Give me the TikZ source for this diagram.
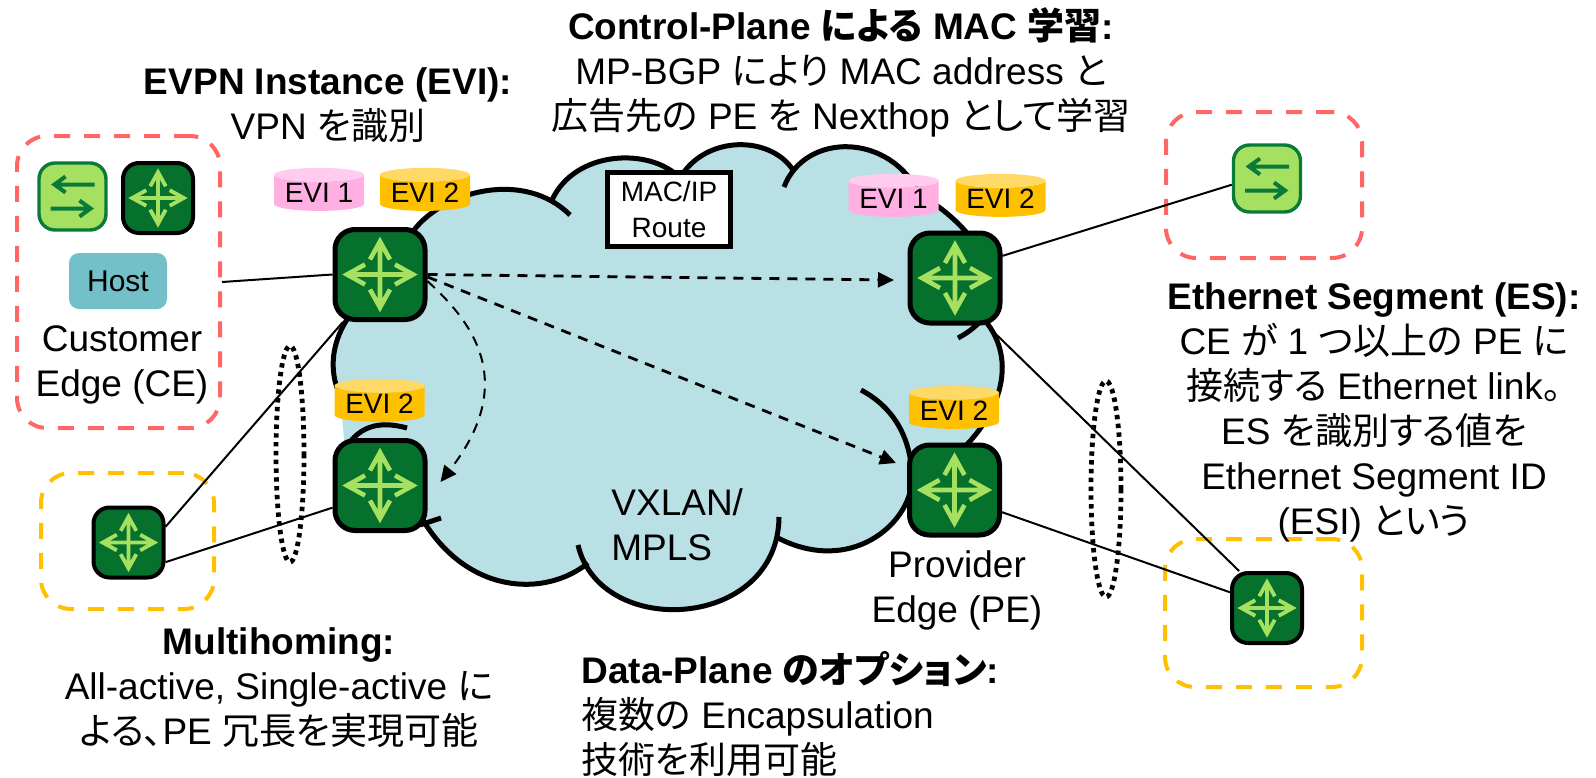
\documentclass[tikz,border=0pt]{standalone}
\usepackage{fontspec}
\setmainfont{Liberation Sans}
\newfontfamily\jpfont[RawFeature=+palt]{Noto Sans CJK JP}
\newcommand{\ja}[1]{{\jpfont #1}}
\usetikzlibrary{arrows.meta,shapes.geometric}
\definecolor{cloudblue}{RGB}{185,224,228}
\definecolor{rosered}{RGB}{255,102,102}
\definecolor{ambeline}{RGB}{255,192,0}
\definecolor{ambertop}{RGB}{255,217,102}
\definecolor{pinkbody}{RGB}{255,175,225}
\definecolor{pinktop}{RGB}{255,204,238}
\definecolor{routerfill}{RGB}{6,112,45}
\definecolor{limearrow}{RGB}{166,224,96}
\definecolor{switchline}{RGB}{10,122,56}
\definecolor{hostfill}{RGB}{115,192,200}
\tikzset{
    bodytext/.style={font=\fontsize{18.5}{22.5}\selectfont,align=center,inner sep=0pt},
    routerbig/.style={draw=black,fill=routerfill,line width=2.5pt,rounded corners=10pt,minimum size=45pt,inner sep=0pt},
    routersmall/.style={draw=black,fill=routerfill,line width=2pt,rounded corners=8pt,minimum size=35pt,inner sep=0pt},
    switchbox/.style={draw=switchline,fill=limearrow,line width=1.7pt,rounded corners=8pt,minimum size=33.5pt,inner sep=0pt},
    sitebox/.style={line width=2pt,rounded corners=15pt,dash pattern=on 8pt off 7pt,inner sep=0pt},
    evidisk/.style={cylinder,shape border rotate=90,aspect=.2,cylinder uses custom fill,draw=none,minimum width=45pt,minimum height=21.5pt,inner sep=0pt,font=\fontsize{14}{14}\selectfont},
    evione/.style={evidisk,cylinder body fill=pinkbody,cylinder end fill=pinktop},
    evitwo/.style={evidisk,cylinder body fill=ambeline,cylinder end fill=ambertop},
    cloudline/.style={draw=black,line width=2.5pt},
    linkline/.style={draw=black,line width=1pt},
    routeline/.style={draw=black,line width=1.4pt,dash pattern=on 5pt off 4pt,-{Triangle[length=8pt,width=7.5pt]}},
    esring/.style={draw=black,line width=2.4pt,dash pattern=on 2.2pt off 2.2pt},
    pics/routerarrows/.style={code={
        \foreach \a in {0,90,180,270}{
            \draw[limearrow,line width=#1,rotate=\a] (0,0) -- (33,0) (15,-10) -- (33,0) -- (15,10);
        }
    }},
    pics/switcharrows/.style={code={
        \draw[switchline,line width=2pt] (22,-12) -- (-18,-12) (-7,-20) -- (-18,-12) -- (-7,-4);
        \draw[switchline,line width=2pt] (-22,12) -- (18,12) (7,4) -- (18,12) -- (7,20);
    }}
}
\begin{document}
\begin{tikzpicture}[x=0.5pt,y=-0.5pt]
    \useasboundingbox (0,0) rectangle (1596,777);

    \fill[cloudblue] (414,230) .. controls (445,190) and (525,170) .. (570,215)
        -- (552,200) .. controls (575,150) and (650,147) .. (680,178)
        .. controls (705,135) and (770,135) .. (793,170)
        -- (784,187) .. controls (805,132) and (890,132) .. (920,195)
        .. controls (975,225) and (1030,300) .. (958,338)
        -- (975,310) .. controls (1025,355) and (1000,420) .. (950,460)
        -- (912,480) .. controls (910,525) and (850,575) .. (778,538)
        -- (779,517) .. controls (778,630) and (600,640) .. (578,545)
        -- (588,563) .. controls (545,598) and (465,595) .. (420,515)
        -- (345,450) -- (340,395) .. controls (328,370) and (332,340) .. (350,315) -- cycle;
    \draw[cloudline] (414,230) .. controls (445,190) and (525,170) .. (570,215);
    \draw[cloudline] (552,200) .. controls (575,150) and (650,147) .. (680,178);
    \draw[cloudline] (680,178) .. controls (705,135) and (770,135) .. (793,170);
    \draw[cloudline] (784,187) .. controls (805,132) and (890,132) .. (920,195);
    \draw[cloudline] (920,195) .. controls (975,225) and (1030,300) .. (958,338);
    \draw[cloudline] (975,310) .. controls (1025,355) and (1000,420) .. (950,460);
    \draw[cloudline] (861,390) .. controls (895,408) and (912,440) .. (912,480);
    \draw[cloudline] (912,480) .. controls (910,525) and (850,575) .. (778,538);
    \draw[cloudline] (779,517) .. controls (778,630) and (600,640) .. (578,545);
    \draw[cloudline] (588,563) .. controls (545,598) and (465,595) .. (420,515);
    \draw[cloudline] (441,518) -- (420,525);
    \draw[cloudline] (407,428) .. controls (385,422) and (360,422) .. (345,450);
    \draw[cloudline] (340,395) .. controls (328,370) and (332,340) .. (350,315);

    \node[sitebox,draw=rosered,minimum width=101.5pt,minimum height=146pt] (cesite) at (118.5,282) {};
    \node[sitebox,draw=ambeline,minimum width=86.5pt,minimum height=68pt] (mhsite) at (127.5,541) {};
    \node[sitebox,draw=rosered,minimum width=98pt,minimum height=73pt] (swsite) at (1264,185) {};
    \node[sitebox,draw=ambeline,minimum width=98.5pt,minimum height=74pt] (essite) at (1263.5,613) {};

    \node[switchbox] (swlegend) at (72.5,196.5) {};
    \node[routersmall] (rtlegend) at (158,198) {};
    \node[fill=hostfill,rounded corners=5pt,minimum width=49pt,minimum height=28pt,inner sep=0pt,font=\fontsize{15}{15}\selectfont] (host) at (118,281) {Host};
    \node[bodytext] (cetext) at (122,365) {Customer\\Edge (CE)};

    \node[routerbig] (pe1) at (380,274.5) {};
    \node[routerbig] (pe2) at (380,485.5) {};
    \node[routerbig] (pe3) at (955,278) {};
    \node[routerbig] (pe4) at (954.5,490) {};
    \node[routersmall] (cemh) at (128.5,542.5) {};
    \node[routersmall] (cees) at (1267,608) {};
    \node[switchbox] (cesw) at (1267,178.5) {};

    \draw[linkline] (cesite.east) -- (pe1.west);
    \draw[linkline] (cemh.23) -- (pe1.232);
    \draw[linkline] (cemh.-28) -- (pe2.205);
    \draw[linkline] (pe3.25) -- (cesw.190);
    \draw[linkline] (pe3.-56) -- (cees.127);
    \draw[linkline] (pe4.-25) -- (cees.157);
    \draw[esring] (290,454) ellipse [x radius=14,y radius=108];
    \draw[esring] (1106,489) ellipse [x radius=15,y radius=108];

    \foreach \r in {pe1,pe2,pe3,pe4}{
        \pic at (\r) {routerarrows=2.3pt};
    }
    \foreach \r in {rtlegend,cemh,cees}{
        \pic[scale=.78] at (\r) {routerarrows=1.9pt};
    }
    \foreach \r in {swlegend,cesw}{
        \pic at (\r) {switcharrows};
    }

    \node[evione] (evia) at (319,193) {EVI 1};
    \node[evitwo] (evib) at (425,193) {EVI 2};
    \node[evitwo] (evic) at (379.5,404) {EVI 2};
    \node[evione] (evid) at (893.5,199) {EVI 1};
    \node[evitwo] (evie) at (1000.5,199) {EVI 2};
    \node[evitwo] (evif) at (954,411) {EVI 2};

    \node[draw=black,fill=white,line width=2.5pt,minimum width=61.5pt,minimum height=37pt,inner sep=0pt,align=center,font=\fontsize{14}{18}\selectfont] (macroute) at (669,209.5) {MAC/IP\\Route};

    \coordinate (tipa) at (894,280);
    \coordinate (tipb) at (896,463);
    \coordinate (tipc) at (440.5,482);
    \draw[routeline] (pe1.east) -- (tipa);
    \draw[routeline] (pe1.-3) -- (tipb);
    \draw[routeline,line width=1pt] (pe1.-8) .. controls (470,320) and (520,380) .. (tipc);

    \node[bodytext] (cplane) at (841,72) {\textbf{Control-Plane \ja{による} MAC \ja{学習}:}\\MP-BGP \ja{により} MAC address \ja{と}\\\ja{広告先の} PE \ja{を} Nexthop \ja{として学習}};
    \node[bodytext] (evitext) at (328,105) {\textbf{EVPN Instance (EVI):}\\VPN \ja{を識別}};
    \node[bodytext] (estext) at (1374,412) {\textbf{Ethernet Segment (ES):}\\CE \ja{が} 1 \ja{つ以上の} PE \ja{に}\\\ja{接続する} Ethernet link\ja{。}\\ES \ja{を識別する値を}\\Ethernet Segment ID\\(ESI) \ja{という}};
    \node[bodytext] (mhtext) at (279,688) {\textbf{Multihoming:}\\All-active, Single-active \ja{に}\\\ja{よる、}PE \ja{冗長を実現可能}};
    \node[bodytext,align=left,anchor=west] (dptext) at (581,714) {\textbf{Data-Plane \ja{のオプション}:}\\\ja{複数の} Encapsulation\\\ja{技術を利用可能}};
    \node[bodytext] (petext) at (957,590) {Provider\\Edge (PE)};
    \node[bodytext,align=left,anchor=west] (vxtext) at (611,524.5) {VXLAN/\\MPLS};
\end{tikzpicture}
\end{document}
